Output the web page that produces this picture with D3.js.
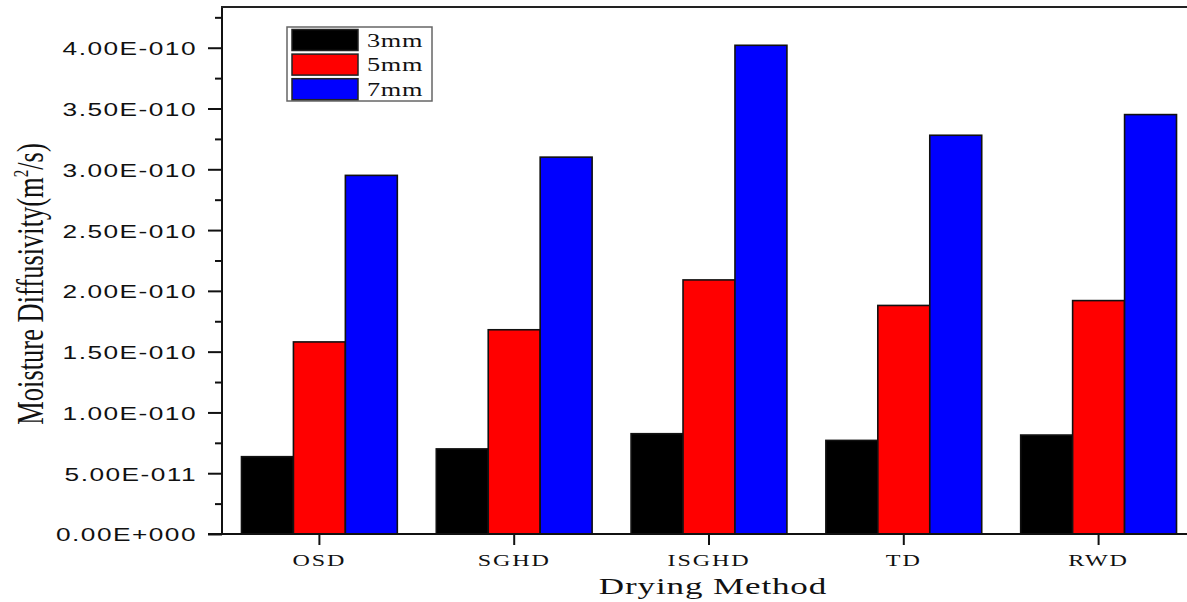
<!DOCTYPE html>
<html>
<head>
<meta charset="utf-8">
<script src="https://cdn.jsdelivr.net/npm/d3@7"></script>
<style>
  html, body { margin: 0; padding: 0; background: #fff; }
  svg { display: block; }
</style>
</head>
<body>
<svg id="chart" width="1187" height="602"></svg>
<script>
// ---- data ----
const categories = ["OSD", "SGHD", "ISGHD", "TD", "RWD"];
const seriesNames = ["3mm", "5mm", "7mm"];
const seriesColors = ["#000000", "#ff0000", "#0000ff"];
const values3mm = [6.36e-11, 7.00e-11, 8.25e-11, 7.70e-11, 8.14e-11];
const values5mm = [1.58e-10, 1.68e-10, 2.09e-10, 1.88e-10, 1.92e-10];
const values7mm = [2.95e-10, 3.10e-10, 4.02e-10, 3.28e-10, 3.45e-10];
const yTickValues = [0, 5e-11, 1e-10, 1.5e-10, 2e-10, 2.5e-10, 3e-10, 3.5e-10, 4e-10];
const yTickLabels = ["0.00E+000", "5.00E-011", "1.00E-010", "1.50E-010", "2.00E-010",
                     "2.50E-010", "3.00E-010", "3.50E-010", "4.00E-010"];
const yMinorTicks = [2.5e-11, 7.5e-11, 1.25e-10, 1.75e-10, 2.25e-10, 2.75e-10, 3.25e-10, 3.75e-10, 4.25e-10];
const xTitle = "Drying Method";
const yTitleMain = "Moisture Diffusivity(m";
const yTitleSup = "2";
const yTitleEnd = "/s)";

const seriesValues = [values3mm, values5mm, values7mm];

// ---- layout ----
const SX = 1.46; // horizontal text stretch
const plotLeft = 222, plotTop = 7, plotBottom = 534, plotRight = 1196;
const serif = "'Liberation Serif', 'Times New Roman', serif";
const sans = "'Liberation Sans', Arial, sans-serif";

const svg = d3.select("#chart");

const x0 = d3.scaleBand().domain(categories).range([plotLeft, plotRight])
  .paddingInner(0.2).paddingOuter(0.1);
const x1 = d3.scaleBand().domain(seriesNames).range([0, x0.bandwidth()]).padding(0);
const y = d3.scaleLinear().domain([0, 4.335e-10]).range([plotBottom, plotTop]);

// bars
const groups = svg.append("g").selectAll("g")
  .data(categories).join("g")
  .attr("transform", d => `translate(${x0(d)},0)`);

groups.selectAll("rect")
  .data((c, ci) => seriesNames.map((s, si) => ({ s, si, v: seriesValues[si][ci] })))
  .join("rect")
  .attr("x", d => x1(d.s))
  .attr("y", d => y(d.v))
  .attr("width", x1.bandwidth())
  .attr("height", d => y(0) - y(d.v))
  .attr("fill", d => seriesColors[d.si])
  .attr("stroke", "#111")
  .attr("stroke-width", 1.6);

// y axis (major)
const yAxis = svg.append("g")
  .attr("transform", `translate(${plotLeft},0)`)
  .call(d3.axisLeft(y).tickValues(yTickValues)
    .tickFormat((d, i) => yTickLabels[i]).tickSize(14).tickSizeOuter(0));
yAxis.select(".domain").remove();
yAxis.selectAll(".tick line").attr("stroke", "#111").attr("stroke-width", 2);
yAxis.selectAll(".tick text")
  .attr("x", 0).attr("dy", null)
  .attr("dominant-baseline", "central")
  .attr("transform", `translate(-25,1) scale(${SX},1)`)
  .attr("font-family", sans).attr("font-size", 18).attr("letter-spacing", 1)
  .attr("fill", "#111");

// y axis minor ticks
const yMinor = svg.append("g")
  .attr("transform", `translate(${plotLeft},0)`)
  .call(d3.axisLeft(y).tickValues(yMinorTicks).tickFormat("").tickSize(7).tickSizeOuter(0));
yMinor.select(".domain").remove();
yMinor.selectAll(".tick line").attr("stroke", "#111").attr("stroke-width", 2);

// x axis
const xAxis = svg.append("g")
  .attr("transform", `translate(0,${plotBottom})`)
  .call(d3.axisBottom(x0).tickSize(11).tickSizeOuter(0));
xAxis.select(".domain").remove();
xAxis.selectAll(".tick line").attr("stroke", "#111").attr("stroke-width", 2);
xAxis.selectAll(".tick text")
  .attr("y", 0).attr("dy", null)
  .attr("transform", `translate(0,32) scale(${SX},1)`)
  .attr("font-family", serif).attr("font-size", 16.5)
  .attr("letter-spacing", 1.3).attr("fill", "#111");

// frame lines
svg.append("line").attr("x1", plotLeft).attr("x2", plotLeft).attr("y1", plotTop).attr("y2", plotBottom + 1)
  .attr("stroke", "#111").attr("stroke-width", 2);
svg.append("line").attr("x1", plotLeft - 14).attr("x2", 1187).attr("y1", plotBottom).attr("y2", plotBottom)
  .attr("stroke", "#111").attr("stroke-width", 2);
svg.append("line").attr("x1", plotLeft - 1).attr("x2", 1187).attr("y1", plotTop).attr("y2", plotTop)
  .attr("stroke", "#222").attr("stroke-width", 2);

// axis titles
svg.append("text")
  .attr("transform", `translate(713,594) scale(${SX},1)`)
  .attr("text-anchor", "middle")
  .attr("font-family", serif).attr("font-size", 24).attr("letter-spacing", 0.6)
  .attr("fill", "#111")
  .text(xTitle);

const yt = svg.append("text")
  .attr("transform", `translate(43,284) scale(1.4,1) rotate(-90)`)
  .attr("text-anchor", "middle")
  .attr("font-family", serif).attr("font-size", 26.5)
  .attr("fill", "#111");
yt.append("tspan").text(yTitleMain);
yt.append("tspan").attr("dy", -11).attr("font-size", 15).text(yTitleSup);
yt.append("tspan").attr("dy", 11).text(yTitleEnd);

// legend
const legX = 287, legY = 27;
svg.append("rect").attr("x", legX).attr("y", legY).attr("width", 145).attr("height", 74)
  .attr("fill", "#fff").attr("stroke", "#666").attr("stroke-width", 1.5);
const leg = svg.append("g").selectAll("g").data(seriesNames).join("g")
  .attr("transform", (d, i) => `translate(${legX + 5},${legY + 2.5 + i * 24.6})`);
leg.append("rect").attr("x", 0).attr("y", 0).attr("width", 66).attr("height", 21)
  .attr("fill", (d, i) => seriesColors[i]).attr("stroke", "#222").attr("stroke-width", 1.5);
leg.append("text")
  .attr("transform", `translate(75,17) scale(${SX},1)`)
  .attr("font-family", serif).attr("font-size", 18).attr("letter-spacing", 0.5)
  .attr("fill", "#111")
  .text(d => d);
</script>
</body>
</html>
